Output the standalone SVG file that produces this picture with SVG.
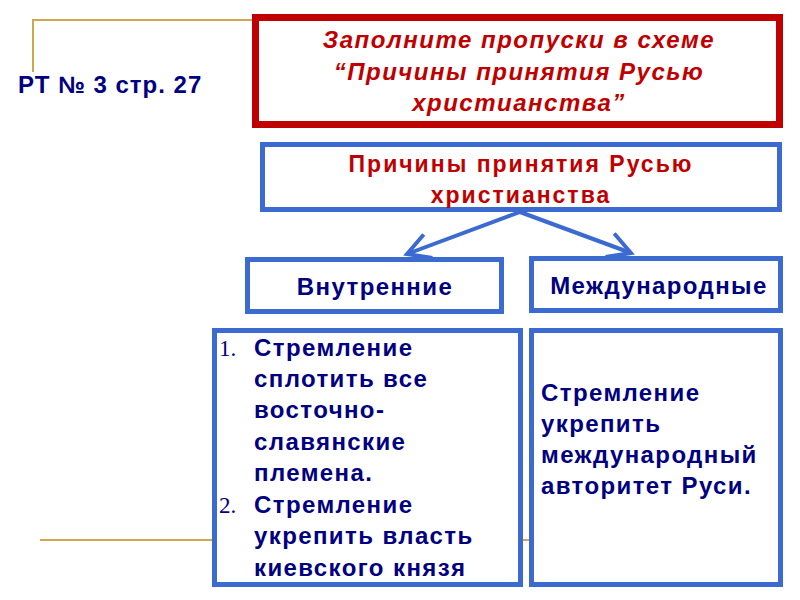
<svg xmlns="http://www.w3.org/2000/svg" width="800" height="600" viewBox="0 0 800 600">
<defs>
<style>
.gold{fill:none;stroke:#D2A64E;stroke-width:2}
.bbox{fill:#fff;stroke:#3B6BD0;stroke-width:5}
.rbox{fill:#fff;stroke:#C00000;stroke-width:7}
.conn{fill:none;stroke:#3B6BD0;stroke-width:4}
.title{font-family:"Liberation Sans",Arial,sans-serif;font-weight:bold;font-style:italic;font-size:24px;letter-spacing:1.5px;fill:#C00000;text-anchor:middle}
.red{font-family:"Liberation Sans",Arial,sans-serif;font-weight:bold;font-size:23px;letter-spacing:2px;fill:#C00000;text-anchor:middle}
.navy{font-family:"Liberation Sans",Arial,sans-serif;font-weight:bold;font-size:24px;letter-spacing:1.4px;fill:#000080}
.num{font-family:"Liberation Serif","Times New Roman",serif;font-size:23px;fill:#000080}
.mid{text-anchor:middle}
</style>
<marker id="arr" viewBox="0 0 12 12" refX="10" refY="6" markerWidth="7.5" markerHeight="7.5" orient="auto" markerUnits="strokeWidth">
<path d="M1,1 L10,6 L1,11" fill="none" stroke="#3B6BD0" stroke-width="1.6"/>
</marker>
</defs>
<rect width="800" height="600" fill="#fff"/>
<g id="decor">
<polyline class="gold" points="33,72 33,20 752,20"/>
<line class="gold" x1="40" y1="540" x2="530" y2="540"/>
</g>
<g id="ref">
<text x="18" y="93" style="font-family:'Liberation Sans',Arial,sans-serif;font-weight:bold;font-size:24px;letter-spacing:1px;fill:#000080">РТ № 3 стр. 27</text>
</g>
<g id="task">
<rect class="rbox" x="255.5" y="17.5" width="524" height="107"/>
<text class="title" x="519" y="48">Заполните пропуски в схеме</text>
<text class="title" x="519" y="80">“Причины принятия Русью</text>
<text class="title" x="519" y="111">христианства”</text>
</g>
<g id="connectors">
<line class="conn" x1="520" y1="212" x2="407" y2="254" marker-end="url(#arr)"/>
<line class="conn" x1="520" y1="212" x2="631" y2="253" marker-end="url(#arr)"/>
</g>
<g id="root">
<rect class="bbox" x="262.5" y="144.5" width="517" height="65"/>
<text class="red" x="521" y="172">Причины принятия Русью</text>
<text class="red" x="521" y="203">христианства</text>
</g>
<g id="internal">
<rect class="bbox" x="247.5" y="259.5" width="254" height="52"/>
<text class="navy mid" x="375" y="295">Внутренние</text>
</g>
<g id="international">
<rect class="bbox" x="531.5" y="258.5" width="249" height="52"/>
<text class="navy mid" x="659" y="294">Международные</text>
</g>
<g id="internal-list">
<rect class="bbox" x="214.5" y="330.5" width="306" height="254"/>
<text class="num" x="219" y="356">1.</text>
<text class="num" x="219" y="513">2.</text>
<text class="navy" x="254" y="356">Стремление</text>
<text class="navy" x="254" y="387">сплотить все</text>
<text class="navy" x="254" y="418">восточно-</text>
<text class="navy" x="254" y="450">славянские</text>
<text class="navy" x="254" y="481">племена.</text>
<text class="navy" x="254" y="513">Стремление</text>
<text class="navy" x="254" y="544">укрепить власть</text>
<text class="navy" x="254" y="576">киевского князя</text>
</g>
<g id="international-list">
<rect class="bbox" x="531.5" y="330.5" width="249" height="254"/>
<text class="navy" x="541" y="401">Стремление</text>
<text class="navy" x="541" y="432">укрепить</text>
<text class="navy" x="541" y="463">международный</text>
<text class="navy" x="541" y="494">авторитет Руси.</text>
</g>
</svg>
